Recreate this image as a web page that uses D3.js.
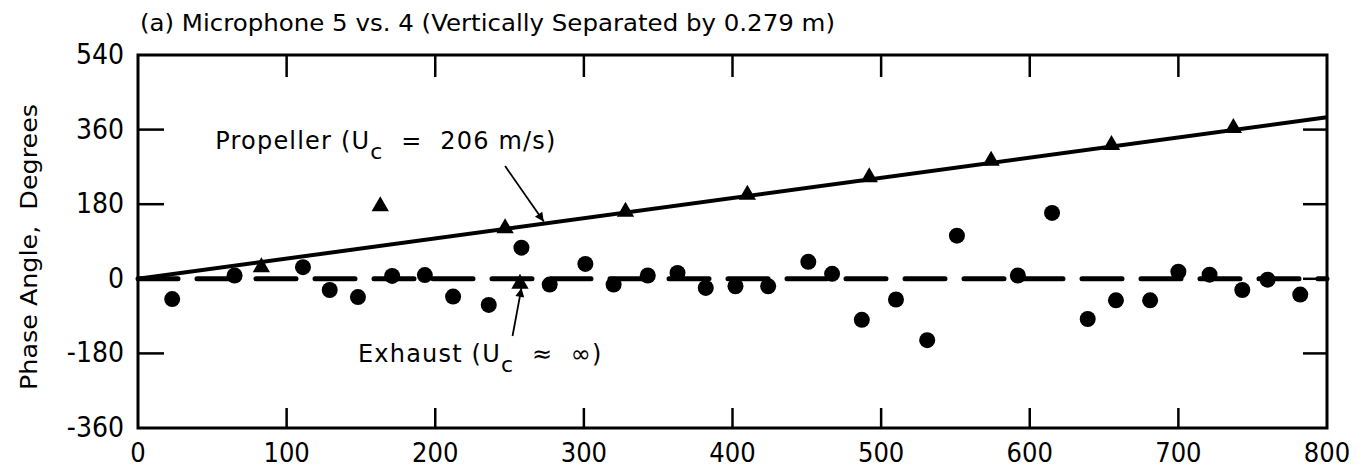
<!DOCTYPE html>
<html>
<head>
<meta charset="utf-8">
<script src="https://cdn.jsdelivr.net/npm/d3@7"></script>
<style>
    body { margin: 0; background: #fff; }
    text { fill: #000; white-space: pre; }
</style>
</head>
<body>
<svg id="chart" width="1361" height="472"></svg>
<script>
// frequency (Hz) / phase (deg)
var circleFreq = [23, 65, 111, 129, 148, 171, 193, 212, 236, 258, 277, 301, 320, 343, 363, 382, 402, 424,
    451, 467, 487, 510, 531, 551, 592, 615, 639, 658, 681, 700, 721, 743, 760, 782];
var circlePhase = [-49, 8, 28, -27, -44, 7, 9, -43, -63, 75, -14, 36, -14, 8, 14, -22, -18, -18,
    41, 12, -99, -50, -148, 104, 8, 159, -97, -52, -52, 17, 10, -27, -2, -38];
var triFreq = [83, 163, 247, 257, 328, 410, 492, 574, 655, 737];
var triPhase = [28, 175, 122, -12, 162, 203, 245, 285, 323, 364];
var propellerFreq = [0, 800];
var propellerPhase = [0, 390];
var exhaustFreq = [0, 800];
var exhaustPhase = [0, 0];
var xTicks = [0, 100, 200, 300, 400, 500, 600, 700, 800];
var yTicks = [-360, -180, 0, 180, 360, 540];

(function () {
    var svg = d3.select('#chart');
    var L = 138, R = 1327, T = 55, B = 428;
    var x = d3.scaleLinear().domain([0, 800]).range([L, R]);
    var y = d3.scaleLinear().domain([-360, 540]).range([B, T]);
    var tickFont = '"Liberation Sans Narrow", "DejaVu Sans Condensed", sans-serif';
    var textFont = '"DejaVu Sans", sans-serif';

    // title
    svg.append('text')
        .attr('x', 140).attr('y', 31)
        .attr('font-family', textFont).attr('font-size', 23)
        .attr('textLength', 695).attr('lengthAdjust', 'spacingAndGlyphs')
        .text('(a) Microphone 5 vs. 4 (Vertically Separated by 0.279 m)');

    // y label
    svg.append('text')
        .attr('transform', 'translate(37,247) rotate(-90)')
        .attr('text-anchor', 'middle')
        .attr('font-family', textFont).attr('font-size', 23)
        .attr('textLength', 286).attr('lengthAdjust', 'spacingAndGlyphs')
        .text('Phase Angle,  Degrees');

    // inner ticks on all four sides
    var inner = svg.append('g').attr('stroke', '#000').attr('stroke-width', 2.5);
    xTicks.slice(1, -1).forEach(function (t) {
        inner.append('line').attr('x1', x(t)).attr('x2', x(t)).attr('y1', T).attr('y2', T + 22);
        inner.append('line').attr('x1', x(t)).attr('x2', x(t)).attr('y1', B).attr('y2', B - 20);
    });
    yTicks.slice(1, -1).forEach(function (t) {
        inner.append('line').attr('x1', L).attr('x2', L + 26).attr('y1', y(t)).attr('y2', y(t));
        inner.append('line').attr('x1', R).attr('x2', R - 24).attr('y1', y(t)).attr('y2', y(t));
    });

    // tick labels
    svg.append('g').selectAll('text').data(xTicks).enter().append('text')
        .attr('x', function (d) { return x(d); })
        .attr('y', 462)
        .attr('text-anchor', 'middle')
        .attr('font-family', tickFont).attr('font-size', 27)
        .text(function (d) { return d; });
    svg.append('g').selectAll('text').data(yTicks).enter().append('text')
        .attr('x', 124)
        .attr('y', function (d) { return y(d) + 9; })
        .attr('text-anchor', 'end')
        .attr('font-family', tickFont).attr('font-size', 28)
        .text(function (d) { return d; });

    // frame
    svg.append('rect')
        .attr('x', L).attr('y', T)
        .attr('width', R - L).attr('height', B - T)
        .attr('fill', 'none').attr('stroke', '#000').attr('stroke-width', 3);

    var line = d3.line()
        .x(function (d) { return x(d[0]); })
        .y(function (d) { return y(d[1]); });

    // exhaust (dashed) and propeller (solid) fits
    svg.append('path')
        .attr('d', line(d3.zip(exhaustFreq, exhaustPhase)))
        .attr('fill', 'none').attr('stroke', '#000').attr('stroke-width', 5)
        .attr('stroke-linecap', 'round')
        .attr('stroke-dasharray', '40,19');
    svg.append('path')
        .attr('d', line(d3.zip(propellerFreq, propellerPhase)))
        .attr('fill', 'none').attr('stroke', '#000').attr('stroke-width', 4);

    // data points
    svg.append('g').selectAll('circle').data(d3.zip(circleFreq, circlePhase)).enter().append('circle')
        .attr('cx', function (d) { return x(d[0]); })
        .attr('cy', function (d) { return y(d[1]); })
        .attr('r', 8)
        .attr('fill', '#000');
    var tri = d3.symbol().type(d3.symbolTriangle).size(130);
    svg.append('g').selectAll('path').data(d3.zip(triFreq, triPhase)).enter().append('path')
        .attr('transform', function (d) { return 'translate(' + x(d[0]) + ',' + y(d[1]) + ')'; })
        .attr('d', tri)
        .attr('fill', '#000');

    // annotations
    svg.append('defs').append('marker')
        .attr('id', 'head')
        .attr('viewBox', '0 0 10 10')
        .attr('refX', 10).attr('refY', 5)
        .attr('markerWidth', 17).attr('markerHeight', 9)
        .attr('markerUnits', 'userSpaceOnUse')
        .attr('orient', 'auto')
        .append('path').attr('d', 'M0,0 L10,5 L0,10 Z').attr('fill', '#000');

    function label(f, p, main, tail) {
        var t = svg.append('text')
            .attr('x', x(f)).attr('y', y(p))
            .attr('font-family', textFont).attr('font-size', 24)
            .attr('letter-spacing', 1.2);
        t.append('tspan').text(main);
        t.append('tspan').attr('dy', 10).attr('font-size', 22).text('c');
        t.append('tspan').attr('dy', -10).text(tail);
        return t;
    }
    function arrow(f1, p1, f2, p2) {
        svg.append('line')
            .attr('x1', x(f1)).attr('y1', y(p1))
            .attr('x2', x(f2)).attr('y2', y(p2))
            .attr('stroke', '#000').attr('stroke-width', 1.8)
            .attr('marker-end', 'url(#head)');
    }

    label(52, 312, 'Propeller (U', '  =  206 m/s)');
    arrow(247, 272, 273, 138);
    label(148, -200, 'Exhaust (U', '  \u2248  \u221e)');
    arrow(252, -138, 258, -22);
})();
</script>
</body>
</html>
